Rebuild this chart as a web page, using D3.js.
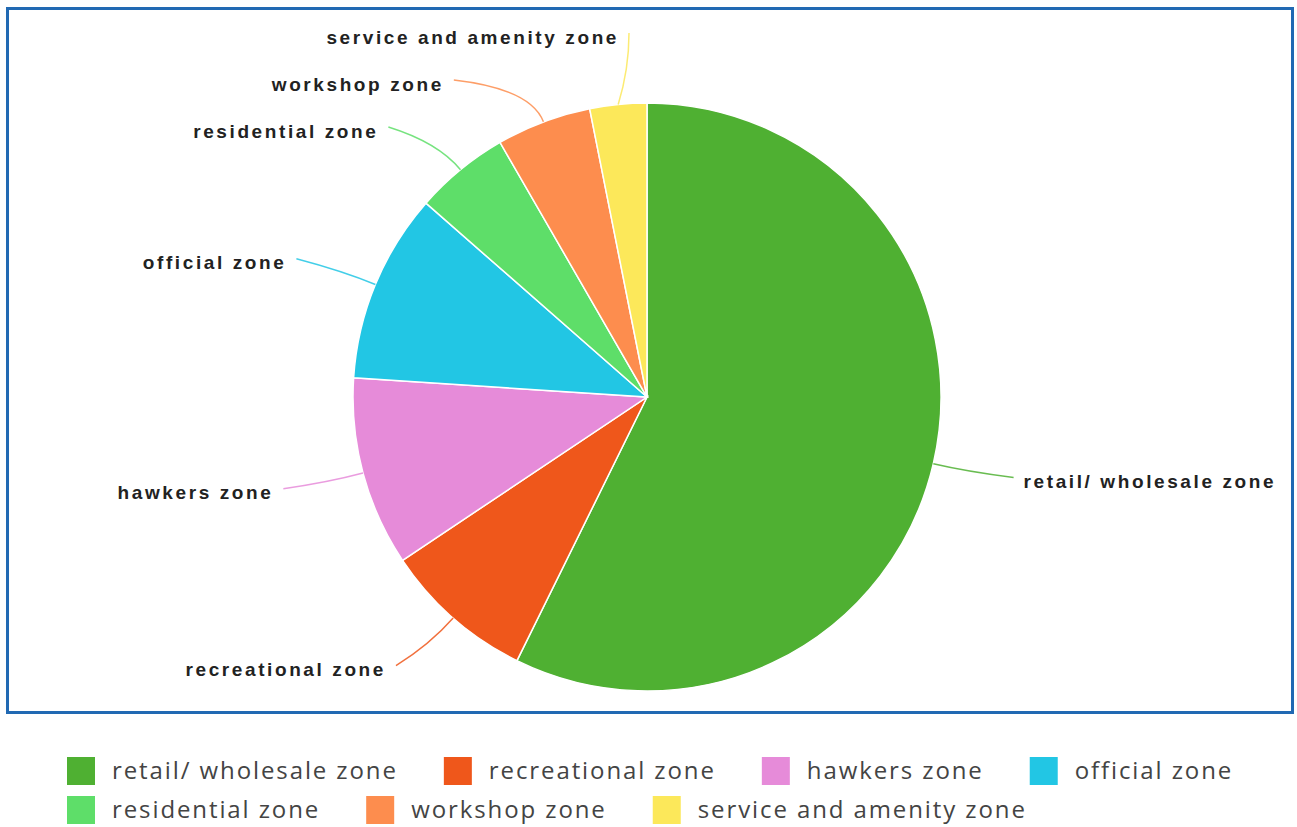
<!DOCTYPE html>
<html>
<head>
<script src="https://d3js.org/d3.v7.min.js"></script>
<title>zones</title>
<style type="text/css">
    body { margin: 0; background-color: white; }
    .lbl { font-family: "Liberation Sans", Arial, sans-serif; font-weight: bold; font-size: 19px; letter-spacing: 2.6px; fill: #222; }
    .leg { font-family: "Open Sans", sans-serif; font-size: 24px; letter-spacing: 1.9px; fill: #444; }
</style>
</head>
<body>
<script type="text/javascript">
// zones and counts
var zones = ["retail/ wholesale zone", "recreational zone", "hawkers zone", "official zone",
             "residential zone", "workshop zone", "service and amenity zone"];
var counts = [55, 8, 10, 10, 5, 5, 3];
var colours = ["#4fb032", "#ef571b", "#e68bd9", "#22c6e4", "#5ede69", "#fd8d4e", "#fce85a"];

var W = 1297, H = 827;
var cx = 647, cy = 397, r = 294;

var svg = d3.select("body").append("svg").attr("width", W).attr("height", H);

// frame
svg.append("rect").attr("x", 7.5).attr("y", 8.5).attr("width", 1285).attr("height", 704)
    .attr("fill", "white").attr("stroke", "#2169b3").attr("stroke-width", 3);

var color = d3.scaleOrdinal().domain(zones).range(colours);
var pie = d3.pie().sort(null).value(function(d) { return d.v; });
var data = zones.map(function(z, i) { return { name: z, v: counts[i] }; });
var arcs = pie(data);
var arc = d3.arc().innerRadius(0).outerRadius(r);

var g = svg.append("g").attr("transform", "translate(" + cx + "," + cy + ")");

g.selectAll("path.slice").data(arcs).enter().append("path")
    .attr("class", "slice")
    .attr("d", arc)
    .attr("fill", function(d) { return color(d.data.name); })
    .attr("stroke", "white").attr("stroke-width", 1.5);

// label layout: natural spot at 1.22r, then spread apart per side, kept inside frame
var R = r * 1.22, minY = 37 - cy;
var labs = arcs.map(function(d) {
    var a = (d.startAngle + d.endAngle) / 2;
    return { d: d, a: a, side: Math.sin(a) >= 0 ? 1 : -1, y: -R * Math.cos(a) + 3 };
});
[1, -1].forEach(function(s) {
    var side = labs.filter(function(l) { return l.side === s; }).sort(function(a, b) { return a.y - b.y; });
    for (var it = 0; it < 200; it++) {
        for (var i = 1; i < side.length; i++) {
            var gap = side[i].y - side[i - 1].y;
            if (gap < 47) {
                var p = (47 - gap) / 2;
                side[i].y += p; side[i - 1].y -= p;
            }
        }
    }
    if (side.length && side[0].y < minY) {
        side[0].y = minY;
        for (var j = 1; j < side.length; j++) {
            side[j].y = Math.max(side[j].y, side[j - 1].y + 47);
        }
    }
});
labs.forEach(function(l) {
    var dx = Math.sqrt(Math.max(0, R * R - l.y * l.y));
    l.x = l.side * (dx + 28);
});

// leader lines
g.selectAll("path.lead").data(labs).enter().append("path")
    .attr("class", "lead")
    .attr("fill", "none")
    .attr("stroke", function(l) { return color(l.d.data.name); })
    .attr("stroke-width", 1.5)
    .attr("opacity", 0.85)
    .attr("d", function(l) {
        var x0 = r * Math.sin(l.a), y0 = -r * Math.cos(l.a);
        var x1 = r * 1.12 * Math.sin(l.a), y1 = -r * 1.12 * Math.cos(l.a);
        var x2 = l.x + (l.side > 0 ? -10 : 10), y2 = l.y - 4;
        if (Math.abs(x2) < Math.abs(x1) + 5) { x1 = x2; }
        return "M" + x0 + "," + y0 + "Q" + x1 + "," + y1 + " " + x2 + "," + y2;
    });

g.selectAll("text.lbl").data(labs).enter().append("text")
    .attr("class", "lbl")
    .attr("x", function(l) { return l.x; })
    .attr("y", function(l) { return l.y; })
    .attr("dy", "0.35em")
    .attr("text-anchor", function(l) { return l.side > 0 ? "start" : "end"; })
    .text(function(l) { return l.d.data.name; });

// legend, wrapping rows
var leg = svg.append("g");
var lx = 67, ly = 757, rowH = 39, sq = 28;
zones.forEach(function(z) {
    var item = leg.append("g");
    item.append("rect").attr("width", sq).attr("height", sq).attr("fill", color(z));
    var t = item.append("text").attr("class", "leg").attr("x", 45).attr("y", sq / 2).attr("dy", "0.35em").text(z);
    var w = 45 + t.node().getComputedTextLength();
    if (lx + w > 1260) { lx = 67; ly += rowH; }
    item.attr("transform", "translate(" + lx + "," + ly + ")");
    lx += w + 46;
});
</script>
</body>
</html>
